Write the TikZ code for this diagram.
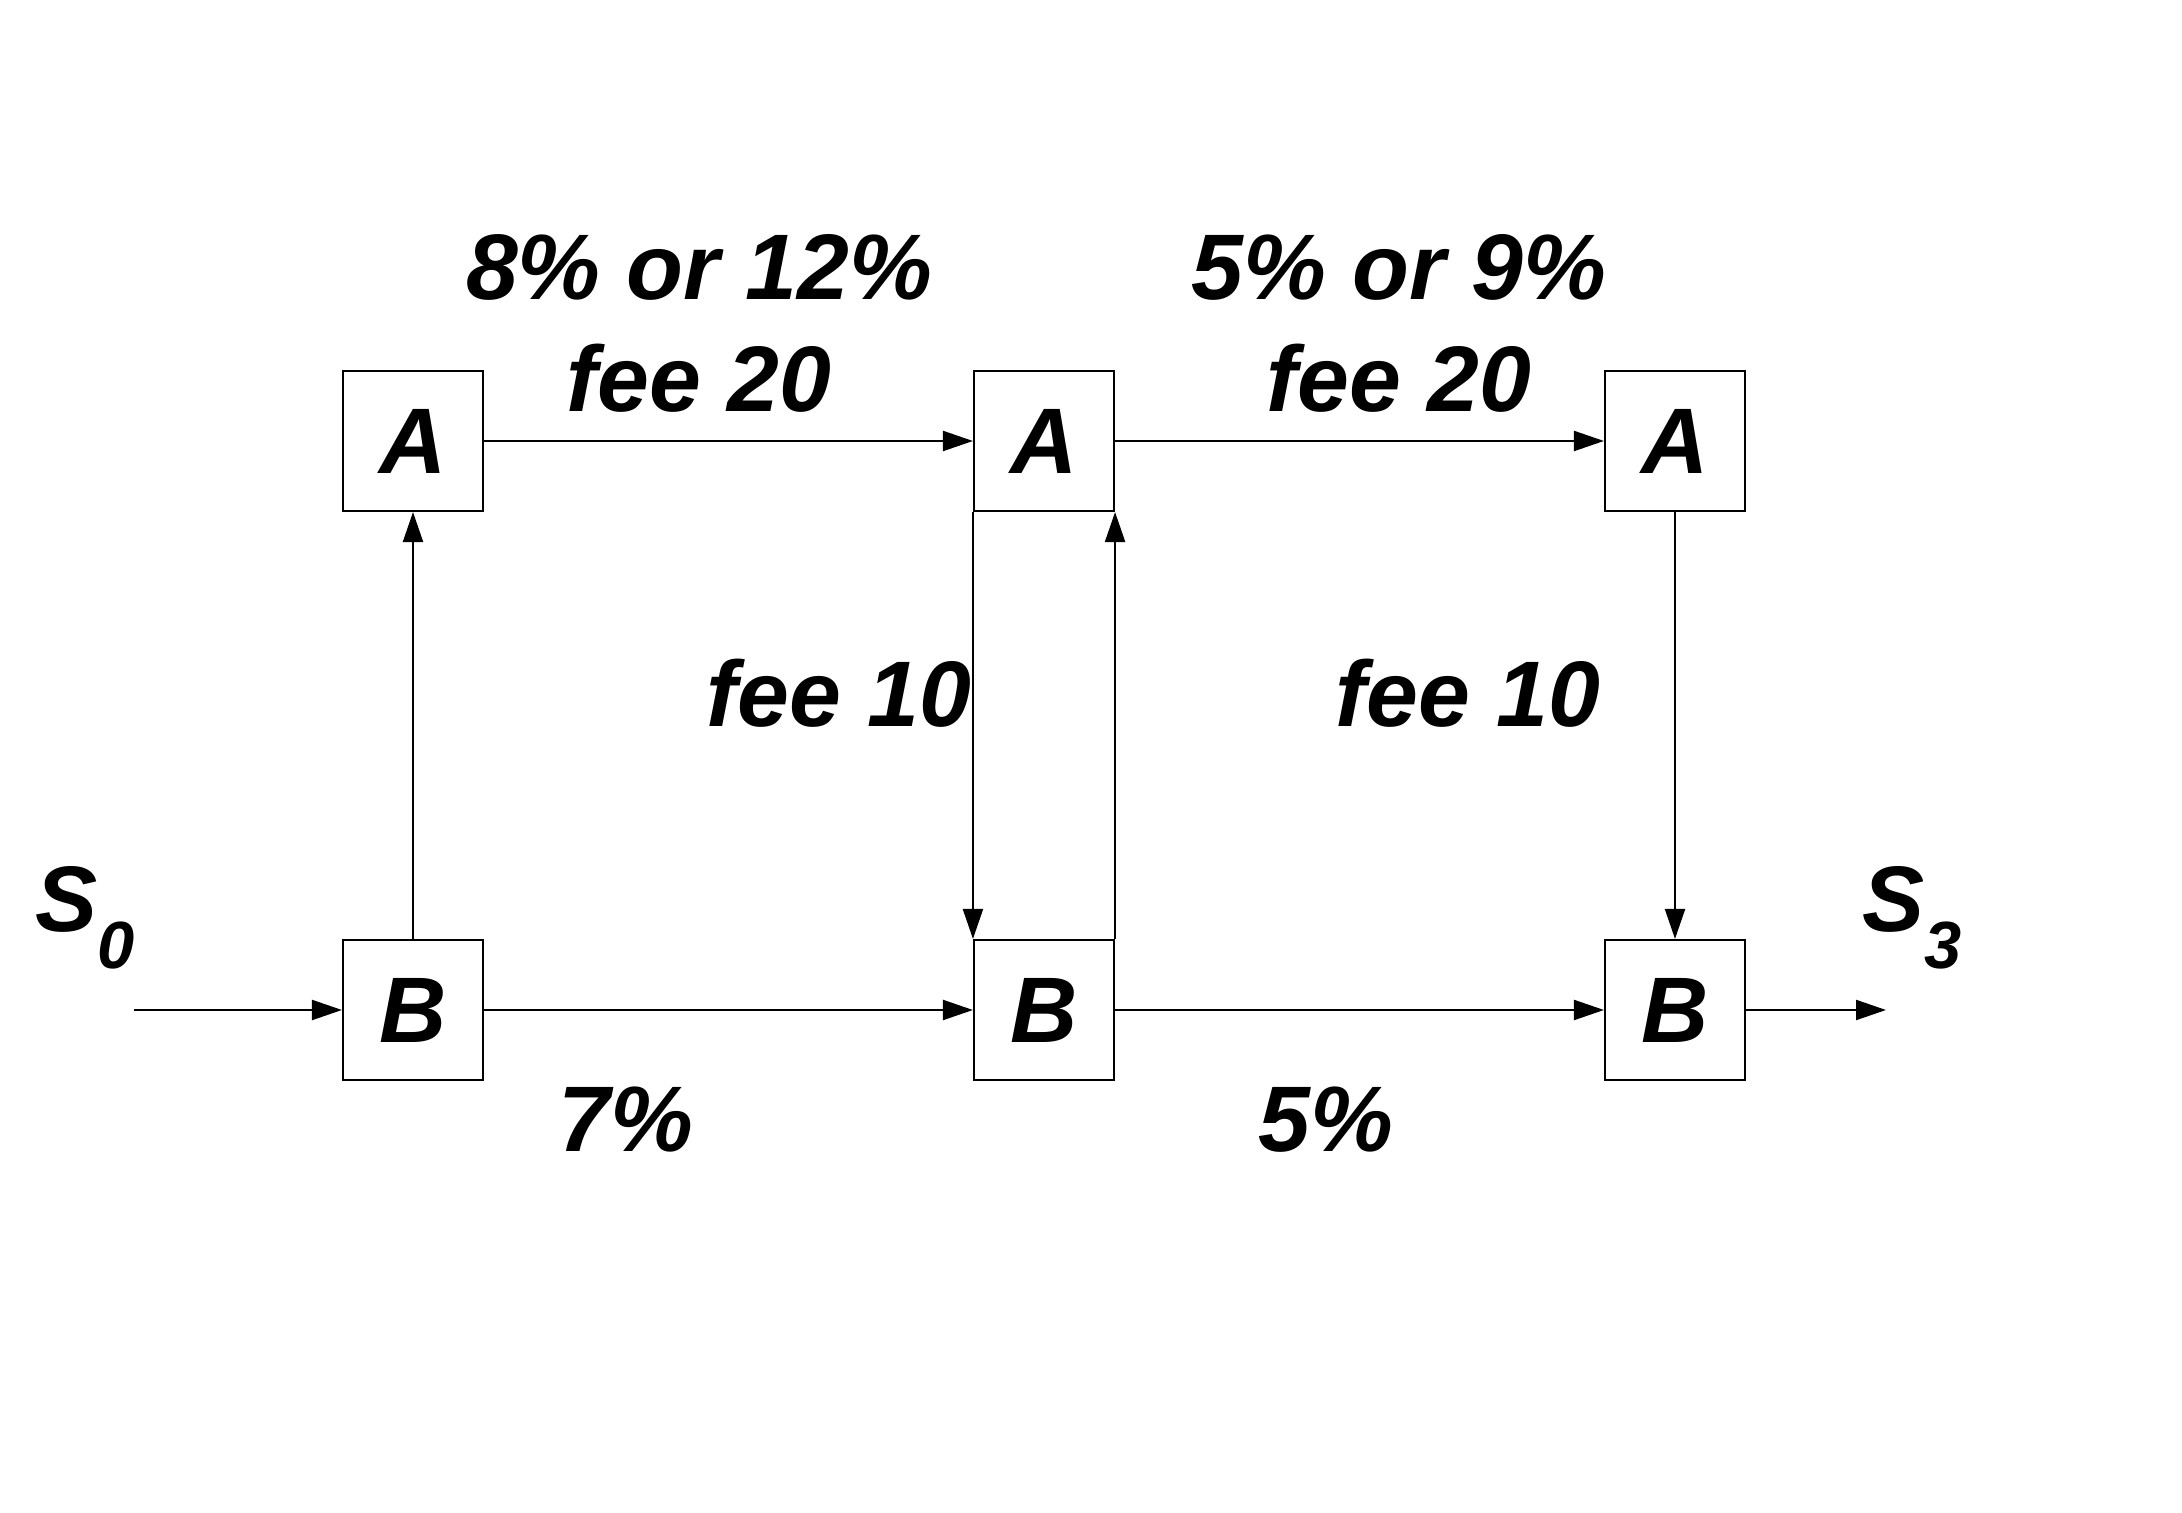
\documentclass[tikz,border=0pt]{standalone}
\usepackage{fontspec}
\setmainfont{Liberation Sans}
\usetikzlibrary{arrows.meta}

\begin{document}
\begin{tikzpicture}
        \useasboundingbox (0,0) rectangle (21.82,15.12);
        % Define the style for the nodes
        \tikzset{every node/.style={font=\fontsize{26.5}{30}\selectfont\bfseries\itshape},
                 box/.style={draw,line width=0.6pt,minimum size=1.4cm,inner sep=0pt},
                 flow/.style={line width=0.6pt,-{Triangle[length=3mm,width=2mm]}}}

        % Nodes
        \node[box] (A1) at (4.13,10.71) {A};
        \node[box] (A2) at (10.44,10.71) {A};
        \node[box] (A3) at (16.75,10.71) {A};
        \node[box] (B1) at (4.13,5.02) {B};
        \node[box] (B2) at (10.44,5.02) {B};
        \node[box] (B3) at (16.75,5.02) {B};
        \coordinate (in) at (1.34,5.02);
        \coordinate (out) at (18.86,5.02);

        % Labels
        \node (s0) at (0.85,5.94) {S\raisebox{-0.4em}{\fontsize{19}{19}\selectfont 0}};
        \node (s3) at (19.12,5.94) {S\raisebox{-0.4em}{\fontsize{19}{19}\selectfont 3}};
        \node (r1) at (6.99,12.45) {8\% or 12\%};
        \node (f1) at (6.99,11.34) {fee 20};
        \node (r2) at (13.99,12.45) {5\% or 9\%};
        \node (f2) at (13.99,11.34) {fee 20};
        \node (f3) at (8.39,8.19) {fee 10};
        \node (f4) at (14.68,8.19) {fee 10};
        \node (r3) at (6.26,3.92) {7\%};
        \node (r4) at (13.26,3.92) {5\%};

        % Edges
        \draw[flow] (in) -- (B1);
        \draw[flow] (B1) -- (B2);
        \draw[flow] (B2) -- (B3);
        \draw[flow] (B3) -- (out);
        \draw[flow] (A1) -- (A2);
        \draw[flow] (A2) -- (A3);
        \draw[flow] (B1) -- (A1);
        \draw[flow] (A2.south west) -- (B2.north west);
        \draw[flow] (B2.north east) -- (A2.south east);
        \draw[flow] (A3) -- (B3);
    \end{tikzpicture}
\end{document}
